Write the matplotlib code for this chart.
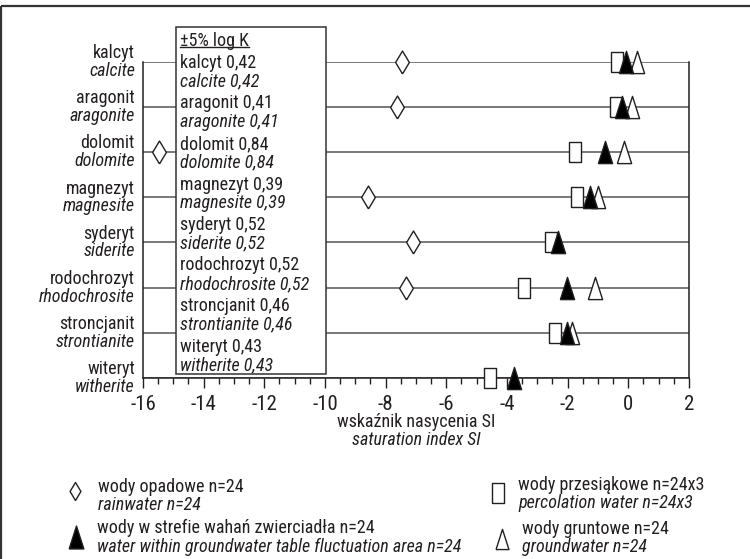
import numpy as np
import matplotlib
matplotlib.use("Agg")
import matplotlib.pyplot as plt
from matplotlib.patches import Rectangle
from matplotlib.ticker import MultipleLocator

plt.rcParams["font.family"] = ["Roboto Condensed", "Liberation Sans Narrow", "Roboto", "DejaVu Sans"]
plt.rcParams["font.stretch"] = "condensed"

# minerals, top to bottom
MINERALS_PL = ["kalcyt", "aragonit", "dolomit", "magnezyt", "syderyt",
               "rodochrozyt", "stroncjanit", "witeryt"]
MINERALS_EN = ["calcite", "aragonite", "dolomite", "magnesite", "siderite",
               "rhodochrosite", "strontianite", "witherite"]
LOGK_ERR = ["0,42", "0,41", "0,84", "0,39", "0,52", "0,52", "0,46", "0,43"]

# saturation index SI per water type (nan = not shown)
SI_RAIN = [-7.47, -7.62, -15.48, -8.59, -7.11, -7.33, np.nan, np.nan]
SI_PERC = [-0.38, -0.42, -1.75, -1.70, -2.56, -3.44, -2.42, -4.56]
SI_FLUCT = [-0.09, -0.22, -0.77, -1.26, -2.33, -2.03, -2.03, -3.77]
SI_GROUND = [0.28, 0.11, -0.13, -1.01, np.nan, -1.10, -1.87, np.nan]

LEGEND_PL = ["wody opadowe n=24",
             "wody w strefie wahań zwierciadła n=24",
             "wody przesiąkowe n=24x3",
             "wody gruntowe n=24"]
LEGEND_EN = ["rainwater n=24",
             "water within groundwater table fluctuation area n=24",
             "percolation water n=24x3",
             "groundwater n=24"]

XTICKS = np.arange(-16, 3, 2)

INK = "#231f20"
LINE = "#555555"
FS = 13

# custom tall markers
DIAMOND = [(0, -0.5), (0.3, 0), (0, 0.5), (-0.3, 0), (0, -0.5)]
RECT = [(-0.31, -0.5), (0.31, -0.5), (0.31, 0.5), (-0.31, 0.5), (-0.31, -0.5)]
TRI = [(-0.32, -0.5), (0.32, -0.5), (0, 0.5), (-0.32, -0.5)]

W, H = 750, 559
fig = plt.figure(figsize=(W / 100, H / 100), dpi=100)
fig.patch.set_facecolor("white")


def frac(x0, y0, x1, y1):
    # pixel box (image coords) -> figure fraction rect
    return [x0 / W, 1 - y1 / H, (x1 - x0) / W, (y1 - y0) / H]


ax = fig.add_axes(frac(143, 61.7, 689, 378))
n = len(MINERALS_PL)
rows = np.arange(n)[::-1]

ax.hlines(rows, XTICKS[0], XTICKS[-1], color=LINE, lw=1.1, zorder=1)

mk = dict(linestyle="none", clip_on=False, markeredgecolor=INK, markeredgewidth=1.0)
ax.plot(SI_RAIN, rows, marker=DIAMOND, markersize=16.5, markerfacecolor="white", zorder=3, **mk)
ax.plot(SI_GROUND, rows, marker=TRI, markersize=16, markerfacecolor="white", zorder=3, **mk)
ax.plot(SI_PERC, rows, marker=RECT, markersize=15, markerfacecolor="white", zorder=4, **mk)
ax.plot(SI_FLUCT, rows, marker=TRI, markersize=16, markerfacecolor="black", zorder=5, **mk)

ax.set_xlim(XTICKS[0], XTICKS[-1])
ax.set_ylim(0, n - 1)
ax.set_xticks(XTICKS)
ax.set_xticklabels([str(t) for t in XTICKS])
ax.xaxis.set_minor_locator(MultipleLocator(0.5))
ax.set_yticks([])
ax.tick_params(axis="x", which="major", direction="out", length=7, width=1,
               color=INK, labelsize=15, labelcolor=INK, pad=5)
ax.tick_params(axis="x", which="minor", direction="out", length=4, width=1, color=INK)
ax.spines["top"].set_visible(False)
for s in ["left", "right", "bottom"]:
    ax.spines[s].set_color(INK)
    ax.spines[s].set_linewidth(1.1)
ax.patch.set_alpha(0)

# mineral names on the left
for y, pl, en in zip(rows, MINERALS_PL, MINERALS_EN):
    ax.text(-16.27, y + 0.19, pl, ha="right", va="center", fontsize=FS, color=INK, clip_on=False)
    ax.text(-16.27, y - 0.2, en, ha="right", va="center", fontsize=FS, color=INK,
            style="italic", clip_on=False)

# overlay in pixel coords for box, axis title, legend, frame
lax = fig.add_axes([0, 0, 1, 1], zorder=5)
lax.set_xlim(0, W)
lax.set_ylim(H, 0)
lax.axis("off")
lax.patch.set_alpha(0)

lax.plot([1, 1], [6, H], color="#333333", lw=1.6, solid_capstyle="butt")
lax.plot([1, W], [6, 6], color="#333333", lw=1.6, solid_capstyle="butt")

lax.add_patch(Rectangle((175.7, 26.7), 150.6, 347.3, facecolor="white",
                        edgecolor="#333333", lw=1.1))
hdr = lax.text(180, 40.7, "±5% log K", ha="left", va="center", fontsize=FS, color=INK)
for i, (pl, en, k) in enumerate(zip(MINERALS_PL, MINERALS_EN, LOGK_ERR)):
    yy = 63 + i * 40.5
    lax.text(180, yy, f"{pl} {k}", ha="left", va="center", fontsize=FS, color=INK)
    lax.text(180, yy + 18.5, f"{en} {k}", ha="left", va="center", fontsize=FS,
             color=INK, style="italic")

fig.canvas.draw()
bb = hdr.get_window_extent()
inv = lax.transData.inverted()
(ux0, _), (ux1, _) = inv.transform([(bb.x0, bb.y0), (bb.x1, bb.y0)])
lax.plot([ux0, ux1], [47, 47], color=INK, lw=1.0)

lax.text(416, 422, "wskaźnik nasycenia SI", ha="center", va="center", fontsize=FS, color=INK)
lax.text(416, 440, "saturation index SI", ha="center", va="center", fontsize=FS,
         color=INK, style="italic")

# legend
leg_marks = [(DIAMOND, 13, "white"), (TRI, 16.5, "black"), (RECT, 13.7, "white"), (TRI, 14.5, "white")]
leg_pos = [(75, 491, 98, 486.5), (76, 537, 97, 528), (498, 493, 518, 484.5), (501.5, 539, 521.5, 528.5)]
for (m, ms, fc), (mx, my, tx, ty), pl, en in zip(leg_marks, leg_pos, LEGEND_PL, LEGEND_EN):
    lax.plot([mx], [my], marker=m, markersize=ms, markerfacecolor=fc,
             markeredgecolor=INK, markeredgewidth=1.0, linestyle="none")
    lax.text(tx, ty, pl, ha="left", va="center", fontsize=FS, color=INK)
    lax.text(tx, ty + 18.5, en, ha="left", va="center", fontsize=FS, color=INK, style="italic")

fig.savefig("out.png", dpi=100, facecolor="white")
